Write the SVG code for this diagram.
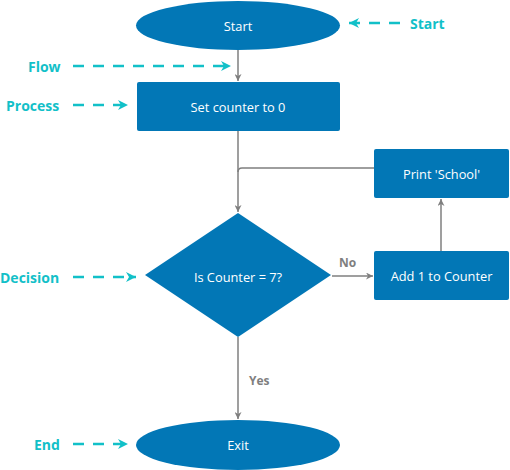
<svg xmlns="http://www.w3.org/2000/svg" width="510" height="470" viewBox="0 0 510 470">
<style>
.node{fill:#0277b6;}
.nt{fill:#ffffff;font-family:"Open Sans","Liberation Sans",sans-serif;font-size:12.8px;text-anchor:middle;dominant-baseline:central;}
.conn{stroke:#7f7f7f;stroke-width:1.5;fill:none;}
.cl{fill:#7f7f7f;font-family:"Open Sans","Liberation Sans",sans-serif;font-size:12px;font-weight:bold;}
.ann{stroke:#12c0c8;stroke-width:2.5;stroke-dasharray:11,9;fill:none;}
.at{fill:#12c0c8;font-family:"Open Sans","Liberation Sans",sans-serif;font-size:14px;font-weight:bold;dominant-baseline:central;}
</style>
<defs>
<marker id="ga" viewBox="0 0 10 10" refX="10" refY="5" markerWidth="7" markerHeight="7" markerUnits="userSpaceOnUse" orient="auto">
<path d="M0,0 L10,5 L0,10 L3,5 Z" fill="#7f7f7f"/>
</marker>
<marker id="ca" viewBox="0 0 10 10" refX="10" refY="5" markerWidth="10" markerHeight="10" markerUnits="userSpaceOnUse" orient="auto">
<path d="M0,0 L10,5 L0,10 L3,5 Z" fill="#12c0c8"/>
</marker>
</defs>
<g id="connectors">
<line class="conn" x1="238" y1="50" x2="238" y2="81" marker-end="url(#ga)"/>
<line class="conn" x1="238" y1="131" x2="238" y2="212" marker-end="url(#ga)"/>
<path class="conn" d="M374,168 L242,168 Q238,168 238,172"/>
<line class="conn" x1="332" y1="276" x2="373" y2="276" marker-end="url(#ga)"/>
<text class="cl" x="339" y="267">No</text>
<line class="conn" x1="441" y1="251" x2="441" y2="199" marker-end="url(#ga)"/>
<line class="conn" x1="238" y1="337" x2="238" y2="419" marker-end="url(#ga)"/>
<text class="cl" x="249" y="385">Yes</text>
</g>
<g id="n-start">
<ellipse class="node" cx="238" cy="25.5" rx="102" ry="24.5"/>
<text class="nt" x="238" y="26">Start</text>
</g>
<g id="n-set">
<rect class="node" x="137" y="82" width="203" height="49" rx="2"/>
<text class="nt" x="238" y="107">Set counter to 0</text>
</g>
<g id="n-decision">
<polygon class="node" points="238,213 331,275 238,337 145,275"/>
<text class="nt" x="238" y="277">Is Counter = 7?</text>
</g>
<g id="n-add">
<rect class="node" x="374" y="251" width="135" height="49" rx="2"/>
<text class="nt" x="441.5" y="276">Add 1 to Counter</text>
</g>
<g id="n-print">
<rect class="node" x="374" y="149" width="135" height="49" rx="2"/>
<text class="nt" x="441.5" y="174">Print 'School'</text>
</g>
<g id="n-exit">
<ellipse class="node" cx="238" cy="445" rx="102" ry="25"/>
<text class="nt" x="238" y="445">Exit</text>
</g>
<g id="annotations">
<path class="ann" d="M400,23 L349,23" marker-end="url(#ca)"/>
<text class="at" x="410" y="23">Start</text>
<path class="ann" d="M73,66 L231,66" marker-end="url(#ca)"/>
<text class="at" x="28" y="66">Flow</text>
<path class="ann" d="M73,105 L128,105" marker-end="url(#ca)"/>
<text class="at" x="6" y="105">Process</text>
<path class="ann" d="M73,277 L136,277" marker-end="url(#ca)"/>
<text class="at" x="0" y="277">Decision</text>
<path class="ann" d="M73,444 L128,444" marker-end="url(#ca)"/>
<text class="at" x="34" y="444">End</text>
</g>
</svg>
